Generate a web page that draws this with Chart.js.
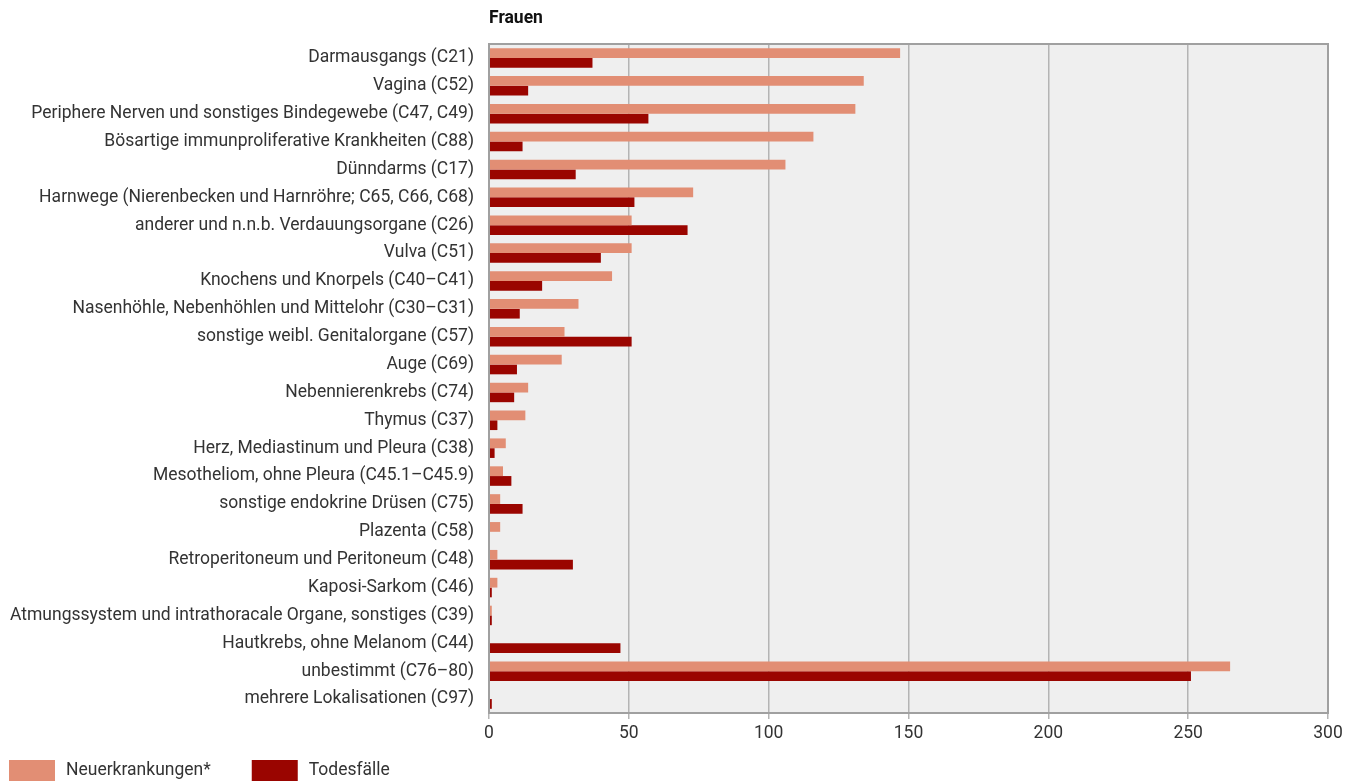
<!DOCTYPE html>
<html>
<head>
<meta charset="utf-8">
<script src="https://cdn.jsdelivr.net/npm/chart.js@4/dist/chart.umd.min.js"></script>
<style>
  html, body { margin: 0; padding: 0; background: #fff; }
  #wrap { width: 1354px; height: 782px; }
</style>
</head>
<body>
<div id="wrap"><canvas id="myChart" width="1354" height="782"></canvas></div>
<script>
var categories = [
  "Darmausgangs (C21)",
  "Vagina (C52)",
  "Periphere Nerven und sonstiges Bindegewebe (C47, C49)",
  "Bösartige immunproliferative Krankheiten (C88)",
  "Dünndarms (C17)",
  "Harnwege (Nierenbecken und Harnröhre; C65, C66, C68)",
  "anderer und n.n.b. Verdauungsorgane (C26)",
  "Vulva (C51)",
  "Knochens und Knorpels (C40–C41)",
  "Nasenhöhle, Nebenhöhlen und Mittelohr (C30–C31)",
  "sonstige weibl. Genitalorgane (C57)",
  "Auge (C69)",
  "Nebennierenkrebs (C74)",
  "Thymus (C37)",
  "Herz, Mediastinum und Pleura (C38)",
  "Mesotheliom, ohne Pleura (C45.1–C45.9)",
  "sonstige endokrine Drüsen (C75)",
  "Plazenta (C58)",
  "Retroperitoneum und Peritoneum (C48)",
  "Kaposi-Sarkom (C46)",
  "Atmungssystem und intrathoracale Organe, sonstiges (C39)",
  "Hautkrebs, ohne Melanom (C44)",
  "unbestimmt (C76–80)",
  "mehrere Lokalisationen (C97)"
];
var neuerkrankungen = [147, 134, 131, 116, 106, 73, 51, 51, 44, 32, 27, 26, 14, 13, 6, 5, 4, 4, 3, 3, 1, 0, 265, 0];
var todesfaelle = [37, 14, 57, 12, 31, 52, 71, 40, 19, 11, 51, 10, 9, 3, 2, 8, 12, 0, 30, 1, 1, 47, 251, 1];
var xTicks = [0, 50, 100, 150, 200, 250, 300];

var textColor = "#333333";
var fontFamily = "Roboto, 'Noto Sans', sans-serif";
var fontSize = 17.5;

// plot background, frame, "Frauen" heading and the legend at the bottom left
var plotFrame = {
  id: "plotFrame",
  beforeDraw(chart) {
    var ctx = chart.ctx, a = chart.chartArea;
    ctx.save();
    ctx.fillStyle = "#efefef";
    ctx.fillRect(a.left, a.top, a.right - a.left, a.bottom - a.top);
    ctx.restore();
  },
  afterDraw(chart) {
    var ctx = chart.ctx, a = chart.chartArea;
    ctx.save();
    ctx.strokeStyle = "#a0a0a0";
    ctx.lineWidth = 2;
    ctx.strokeRect(a.left, a.top, a.right - a.left, a.bottom - a.top);

    ctx.fillStyle = "#111";
    ctx.font = "bold " + fontSize + "px " + fontFamily;
    ctx.textBaseline = "middle";
    ctx.fillText("Frauen", a.left, 19);

    // legend
    ctx.font = fontSize + "px " + fontFamily;
    var x = 9, y = 760;
    chart.data.datasets.forEach(function (ds) {
      ctx.fillStyle = ds.backgroundColor;
      ctx.fillRect(x, y, 46, 21);
      ctx.fillStyle = textColor;
      ctx.fillText(ds.label, x + 57, y + 11);
      x += 57 + ctx.measureText(ds.label).width + 41;
    });
    ctx.restore();
  }
};

new Chart(document.getElementById("myChart"), {
  type: "bar",
  data: {
    labels: categories,
    datasets: [
      {
        label: "Neuerkrankungen*",
        backgroundColor: "#e28e74",
        data: neuerkrankungen,
      },
      {
        label: "Todesfälle",
        backgroundColor: "#9a0500",
        data: todesfaelle,
      },
    ],
  },
  options: {
    indexAxis: "y",
    responsive: false,
    animation: false,
    layout: { padding: { top: 44, right: 26, left: 0, bottom: 0 } },
    datasets: { bar: { categoryPercentage: 0.7, barPercentage: 1.0 } },
    plugins: {
      legend: { display: false },
      title: { display: false },
      tooltip: { enabled: false },
    },
    scales: {
      x: {
        min: 0,
        max: 300,
        afterBuildTicks(scale) {
          scale.ticks = xTicks.map((v) => ({ value: v }));
        },
        afterFit(scale) { scale.height = 69; },
        grid: { color: "#b4b4b4", lineWidth: 1.5, tickLength: 6, drawTicks: true },
        border: { display: false },
        ticks: { color: textColor, font: { family: fontFamily, size: fontSize }, padding: 4 },
      },
      y: {
        afterFit(scale) { scale.width = 489; },
        grid: { display: false, drawTicks: false },
        border: { display: false },
        ticks: { color: textColor, font: { family: fontFamily, size: fontSize }, padding: 15, autoSkip: false },
      },
    },
  },
  plugins: [plotFrame],
});
</script>
</body>
</html>
